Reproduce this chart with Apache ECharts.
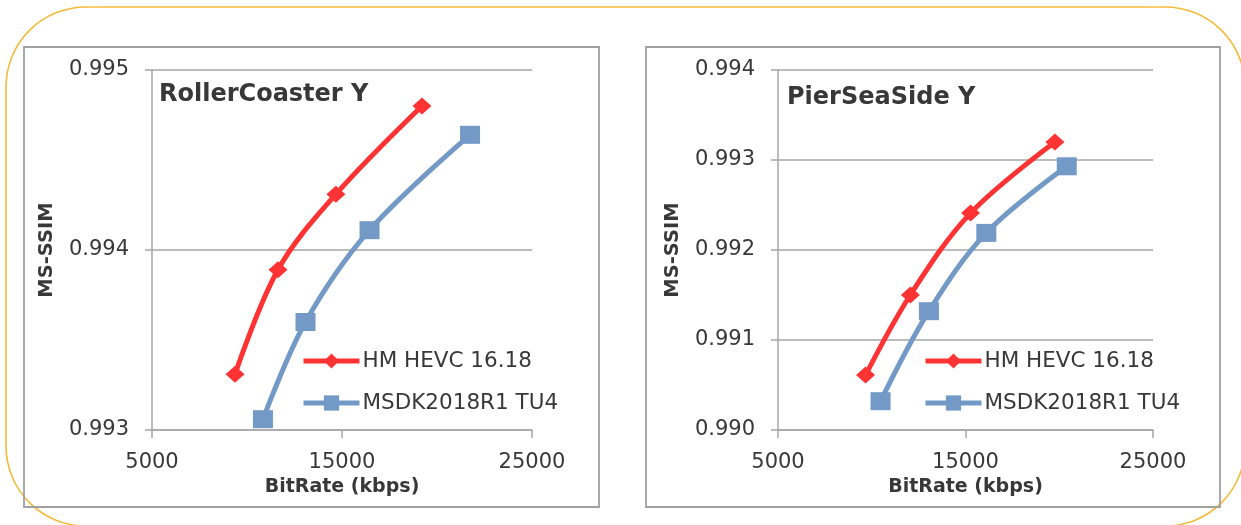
<!DOCTYPE html>
<html>
<head>
<meta charset="utf-8">
<script src="https://cdn.jsdelivr.net/npm/echarts@6/dist/echarts.min.js"></script>
<style>
html,body{margin:0;padding:0;background:#fff;}
#chart{width:1241px;height:525px;}
</style>
</head>
<body>
<div id="chart"></div>
<script>
// ---- data ----
const seriesNames = ['HM HEVC 16.18', 'MSDK2018R1 TU4'];
const chartTitles = ['RollerCoaster Y', 'PierSeaSide Y'];
const xTicks = [5000, 15000, 25000];
const rcYTicks = [0.993, 0.994, 0.995];
const psYTicks = [0.990, 0.991, 0.992, 0.993, 0.994];

const rcBitrateHM = [9370, 11630, 14680, 19210];
const rcSsimHM = [0.99331, 0.99389, 0.99431, 0.99480];
const rcBitrateMSDK = [10840, 13080, 16450, 21740];
const rcSsimMSDK = [0.99306, 0.99360, 0.99411, 0.99464];

const psBitrateHM = [9670, 12060, 15270, 19770];
const psSsimHM = [0.99061, 0.99150, 0.99241, 0.99320];
const psBitrateMSDK = [10470, 13050, 16110, 20400];
const psSsimMSDK = [0.99032, 0.99132, 0.99219, 0.99293];

// ---- helpers ----
const pairs = (xs, ys) => xs.map((x, i) => [x, ys[i]]);
const RED = '#FF3333', BLUE = '#7399C6', TXT = '#383838', GRID = '#A6A6A6';
const FONT = 'DejaVu Sans';

function xAxisCfg(idx) {
  return {
    type: 'value', gridIndex: idx,
    min: xTicks[0], max: xTicks[xTicks.length - 1], interval: xTicks[1] - xTicks[0],
    name: 'BitRate (kbps)', nameLocation: 'middle', nameGap: 45,
    nameTextStyle: { fontFamily: FONT, fontWeight: 'bold', fontSize: 19, color: TXT },
    axisLine: { show: true, lineStyle: { color: GRID, width: 1.5 } },
    axisTick: { show: true, length: 8, lineStyle: { color: GRID, width: 1.5 } },
    axisLabel: { margin: 22, fontFamily: FONT, fontSize: 21, color: TXT, formatter: v => String(v) },
    splitLine: { show: false }
  };
}
function yAxisCfg(idx, ticks) {
  return {
    type: 'value', gridIndex: idx,
    min: ticks[0], max: ticks[ticks.length - 1], interval: 0.001,
    name: 'MS-SSIM', nameLocation: 'middle', nameGap: 95, nameRotate: 90,
    nameTextStyle: { fontFamily: FONT, fontWeight: 'bold', fontSize: 19.5, color: TXT },
    axisLine: { show: true, lineStyle: { color: GRID, width: 1.5 } },
    axisTick: { show: true, length: 7, lineStyle: { color: GRID, width: 1.5 } },
    axisLabel: { margin: 23, fontFamily: FONT, fontSize: 21, color: TXT, formatter: v => v.toFixed(3) },
    splitLine: { show: true, lineStyle: { color: GRID, width: 1.5 } }
  };
}
function lineSeries(name, idx, data, color, symbol, size) {
  return {
    name, type: 'line', xAxisIndex: idx, yAxisIndex: idx,
    data, smooth: 0.35, symbol, symbolSize: size,
    lineStyle: { color, width: 5 },
    itemStyle: { color },
    emphasis: { disabled: true }, animation: false
  };
}
function legendCfg(left) {
  return {
    orient: 'vertical', left, top: 350, padding: 0,
    itemWidth: 56, itemHeight: 19, itemGap: 20,
    selectedMode: false, data: seriesNames,
    lineStyle: { width: 5 },
    textStyle: { fontFamily: FONT, fontSize: 21.5, color: TXT, padding: [0, 0, 0, -2] }
  };
}

const chart = echarts.init(document.getElementById('chart'), null, { renderer: 'canvas' });
chart.setOption({
  backgroundColor: '#ffffff',
  animation: false,
  title: [
    { text: chartTitles[0], left: 159, top: 83, padding: 0,
      textStyle: { fontFamily: FONT, fontWeight: 'bold', fontSize: 24, color: TXT } },
    { text: chartTitles[1], left: 787, top: 86, padding: 0,
      textStyle: { fontFamily: FONT, fontWeight: 'bold', fontSize: 24, color: TXT } }
  ],
  legend: [legendCfg(301), legendCfg(923)],
  grid: [
    { left: 152, top: 70, width: 380, height: 360 },
    { left: 778, top: 70, width: 375, height: 360 }
  ],
  xAxis: [xAxisCfg(0), xAxisCfg(1)],
  yAxis: [yAxisCfg(0, rcYTicks), yAxisCfg(1, psYTicks)],
  series: [
    lineSeries(seriesNames[0], 0, pairs(rcBitrateHM, rcSsimHM), RED, 'diamond', [19, 17]),
    lineSeries(seriesNames[1], 0, pairs(rcBitrateMSDK, rcSsimMSDK), BLUE, 'rect', [20, 18]),
    lineSeries(seriesNames[0], 1, pairs(psBitrateHM, psSsimHM), RED, 'diamond', [19, 17]),
    lineSeries(seriesNames[1], 1, pairs(psBitrateMSDK, psSsimMSDK), BLUE, 'rect', [20, 18])
  ],
  graphic: [
    { type: 'rect', z: -10, silent: true,
      shape: { x: 6, y: 7, width: 1239, height: 519, r: 80 },
      style: { fill: 'none', stroke: '#F3BC3C', lineWidth: 1.6 } },
    { type: 'rect', z: -9, silent: true,
      shape: { x: 24, y: 47, width: 575, height: 460 },
      style: { fill: 'none', stroke: '#A0A0A0', lineWidth: 1.8 } },
    { type: 'rect', z: -9, silent: true,
      shape: { x: 646, y: 47, width: 574, height: 460 },
      style: { fill: 'none', stroke: '#A0A0A0', lineWidth: 1.8 } }
  ]
});
</script>
</body>
</html>
